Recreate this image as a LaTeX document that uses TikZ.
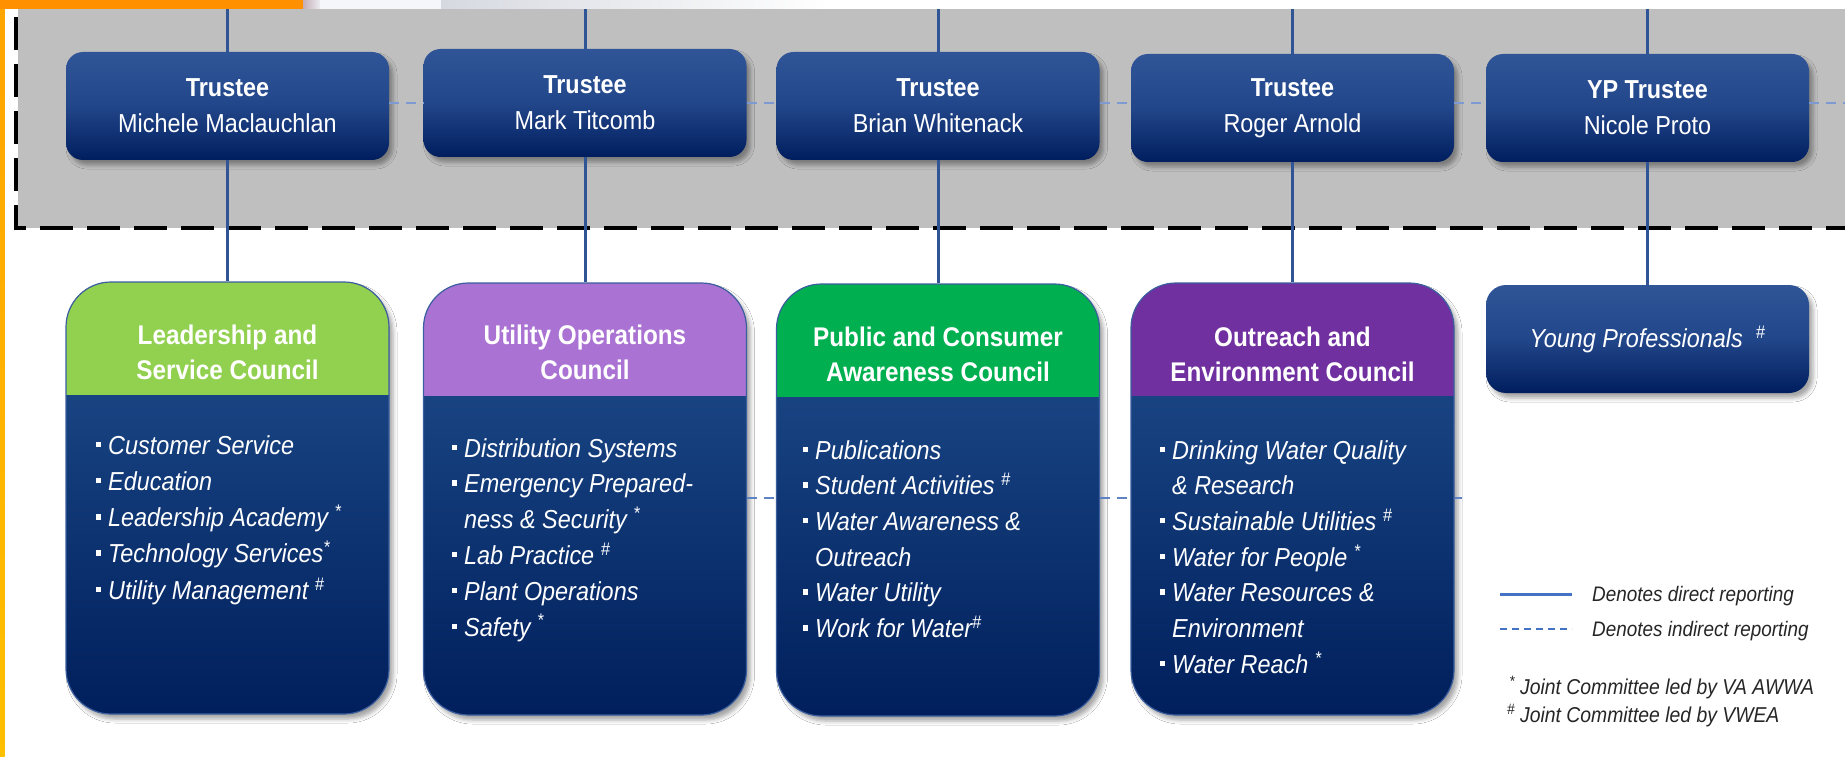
\documentclass[tikz,border=0pt]{standalone}
\usepackage{fontspec}
\newfontfamily\nar{Liberation Sans}[FakeStretch=0.9]
\usetikzlibrary{shadows.blur}
\definecolor{graybg}{HTML}{BFBFBF}
\definecolor{tTop}{HTML}{2F5597}
\definecolor{tMid}{HTML}{22468A}
\definecolor{tBot}{HTML}{001E5E}
\definecolor{bTop}{HTML}{21508F}
\definecolor{bBot}{HTML}{001F5C}
\definecolor{bEdge}{HTML}{3B5E9E}
\definecolor{lineblue}{HTML}{2F5597}
\definecolor{dashblueA}{HTML}{7E9AD2}
\definecolor{dashblueB}{HTML}{5F82C4}
\definecolor{legblue}{HTML}{4472C4}
\definecolor{hGreenA}{HTML}{92D050}
\definecolor{hLilac}{HTML}{AA73D3}
\definecolor{hGreenB}{HTML}{00B050}
\definecolor{hPurple}{HTML}{7030A0}
\definecolor{orangeA}{HTML}{FF9100}
\definecolor{orangeB}{HTML}{FFA400}
\definecolor{orangeC}{HTML}{FFC000}
\definecolor{legtext}{HTML}{262626}
\definecolor{stripA}{HTML}{C4AEB6}
\definecolor{stripB}{HTML}{EDEDF2}
\definecolor{stripC}{HTML}{F5F6F9}
\definecolor{stripD}{HTML}{D6D9E0}
\newcommand\bul{\llap{\raisebox{7pt}{\rule{5.5pt}{5.5pt}}\hspace{7pt}}}
\newcommand\supmark[1]{\textsuperscript{#1}}
\begin{document}
\begin{tikzpicture}[x=1pt,y=-1pt,
  boxshadow/.style={blur shadow={shadow xshift=4pt,shadow yshift=-5pt,shadow blur radius=4pt,shadow opacity=35}},
  trustee/.style={boxshadow, rounded corners=17pt, minimum width=323pt, minimum height=108pt, inner sep=0pt,
    top color=tTop, bottom color=tBot, middle color=tMid, text=white, align=center,
    font=\nar\fontsize{26}{36}\selectfont},
  council/.style={boxshadow, rounded corners=45pt, minimum width=323pt, minimum height=432pt, inner sep=0pt,
    top color=bTop, bottom color=bBot, draw=bEdge, line width=1.2pt,
    path picture={\fill[#1, sharp corners] (path picture bounding box.north west) rectangle ([yshift=-113pt]path picture bounding box.north east);}},
  hdrtext/.style={text=white, align=center, inner sep=0pt, font=\nar\bfseries\fontsize{27}{35}\selectfont},
  item/.style={anchor=base west, inner sep=0pt, text=white, font=\nar\itshape\fontsize{26}{36}\selectfont},
  direct/.style={draw=lineblue, line width=3pt},
  indirectA/.style={draw=dashblueA, line width=2.5pt, dash pattern=on 10pt off 7pt},
  indirectB/.style={draw=dashblueB, line width=2pt, dash pattern=on 10pt off 7pt},
  legsolid/.style={draw=legblue, line width=3pt},
  legdash/.style={draw=legblue, line width=2pt, dash pattern=on 7pt off 5pt},
  legtxt/.style={anchor=base west, inner sep=0pt, text=legtext, font=\nar\itshape\fontsize{21}{28}\selectfont},
  foot/.style={anchor=base west, inner sep=0pt, text=legtext, font=\nar\itshape\fontsize{21.5}{28}\selectfont}
]
\useasboundingbox (0,0) rectangle (1845,757);
\fill[white] (0,0) rectangle (1845,757);
% grey band and dashed frame
\fill[graybg] (18,9) rectangle (1845,228);
\draw[black, line width=4pt, dash pattern=on 33pt off 14pt] (16,17) -- (16,228) -- (1845,228);

% trustee boxes
\node[trustee] (t1) at (227.5,106) {{\bfseries Trustee}\\Michele Maclauchlan};
\node[trustee] (t2) at (585,103) {{\bfseries Trustee}\\Mark Titcomb};
\node[trustee] (t3) at (938,106) {{\bfseries Trustee}\\Brian Whitenack};
\node[trustee] (t4) at (1292.5,108) {{\bfseries Trustee}\\Roger Arnold};
\node[trustee] (t5) at (1647.5,108) {{\bfseries YP Trustee}\\Nicole Proto};

% councils
\node[council=hGreenA] (c1) at (227.5,498) {};
\node[council=hLilac] (c2) at (585,499) {};
\node[council=hGreenB] (c3) at (938,500) {};
\node[council=hPurple] (c4) at (1292.5,499) {};
\node[trustee, rounded corners=20pt] (yp) at (1647.5,339) {\itshape Young Professionals\ \ \supmark{\#}};

% connectors
\coordinate (topline) at (0,9);
\foreach \n in {t1,t2,t3,t4,t5} {\draw[direct] (\n.north) -- (\n.north |- topline);}
\draw[direct] (t1.south) -- (c1.north);
\draw[direct] (t2.south) -- (c2.north);
\draw[direct] (t3.south) -- (c3.north);
\draw[direct] (t4.south) -- (c4.north);
\draw[direct] (t5.south) -- (yp.north);
\coordinate (rightend) at (1845,103);
\draw[indirectA] (t1.east |- 0,103) -- (t2.west |- 0,103);
\draw[indirectA] (t2.east |- 0,103) -- (t3.west |- 0,103);
\draw[indirectA] (t3.east |- 0,103) -- (t4.west |- 0,103);
\draw[indirectA] (t4.east |- 0,103) -- (t5.west |- 0,103);
\draw[indirectA] (t5.east |- 0,103) -- (rightend);
\coordinate (stub) at (1462,498);
\draw[indirectB] (c2.east |- 0,498) -- (c3.west |- 0,498);
\draw[indirectB] (c3.east |- 0,498) -- (c4.west |- 0,498);
\draw[indirectB] (c4.east |- 0,498) -- (stub);

% council headers
\node[hdrtext] (h1) at (227.5,352) {Leadership and\\Service Council};
\node[hdrtext] (h2) at (585,352) {Utility Operations\\Council};
\node[hdrtext] (h3) at (938,354) {Public and Consumer\\Awareness Council};
\node[hdrtext] (h4) at (1292.5,354) {Outreach and\\Environment Council};

% council items
\foreach \s [count=\i from 0] in {{\bul Customer Service},{\bul Education},{\bul Leadership Academy \supmark{*}},{\bul Technology Services\supmark{*}},{\bul Utility Management \supmark{\#}}}
  {\node[item] (c1-\i) at (108,454+36.3*\i) {\s};}
\foreach \s [count=\i from 0] in {{\bul Distribution Systems},{\bul Emergency Prepared-},{ness \& Security \supmark{*}},{\bul Lab Practice \supmark{\#}},{\bul Plant Operations},{\bul Safety \supmark{*}}}
  {\node[item] (c2-\i) at (464,457+35.8*\i) {\s};}
\foreach \s [count=\i from 0] in {{\bul Publications},{\bul Student Activities \supmark{\#}},{\bul Water Awareness \&},{Outreach},{\bul Water Utility},{\bul Work for Water\supmark{\#}}}
  {\node[item] (c3-\i) at (815,459+35.7*\i) {\s};}
\foreach \s [count=\i from 0] in {{\bul Drinking Water Quality},{\& Research},{\bul Sustainable Utilities \supmark{\#}},{\bul Water for People \supmark{*}},{\bul Water Resources \&},{Environment},{\bul Water Reach \supmark{*}}}
  {\node[item] (c4-\i) at (1172,459+35.7*\i) {\s};}

% legend
\coordinate (l1a) at (1500,594); \coordinate (l1b) at (1572,594);
\coordinate (l2a) at (1500,629); \coordinate (l2b) at (1572,629);
\draw[legsolid] (l1a) -- (l1b);
\draw[legdash] (l2a) -- (l2b);
\node[legtxt] (lt1) at (1592,601) {Denotes direct reporting};
\node[legtxt] (lt2) at (1592,636) {Denotes indirect reporting};
\node[foot] (f1) at (1520,694) {\llap{\supmark{*}\hspace{5pt}}Joint Committee led by VA AWWA};
\node[foot] (f2) at (1520,722) {\llap{\supmark{\#}\hspace{5pt}}Joint Committee led by VWEA};

% top strip and left stripe
\fill[orangeA] (0,0) rectangle (303,9);
\shade[left color=stripA, right color=stripB] (303,0) rectangle (320,9);
\fill[stripC] (320,0) rectangle (441,9);
\shade[left color=stripD, right color=white] (441,0) rectangle (830,9);
\shade[top color=orangeB, bottom color=orangeC] (0,0) rectangle (4.5,757);
\fill[orangeA] (0,0) rectangle (4.5,9);
\end{tikzpicture}
\end{document}
